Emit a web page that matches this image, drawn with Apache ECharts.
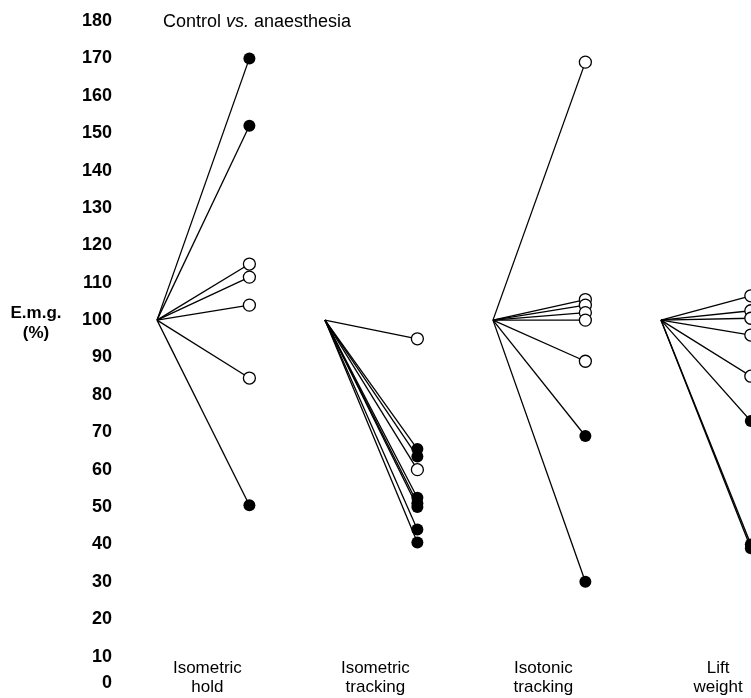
<!DOCTYPE html>
<html>
<head>
<meta charset="utf-8">
<script src="https://cdn.jsdelivr.net/npm/echarts@6/dist/echarts.min.js"></script>
<style>
html,body{margin:0;padding:0;background:#fff;}
#chart{width:751px;height:698px;}
</style>
</head>
<body>
<div id="chart"></div>
<script>
// ---- data ----
const categories = ['Isometric\nhold', 'Isometric\ntracking', 'Isotonic\ntracking', 'Lift\nweight'];
const baselineValue = 100;
// E.m.g. under anaesthesia (% of control), filled circles
const filledValues = [
  [170, 152, 50.5],
  [65.5, 63.5, 52.5, 51, 50, 44, 40.5],
  [69, 30],
  [73, 40, 39]
];
// open circles
const openValues = [
  [115, 111.5, 104, 84.5],
  [95, 60],
  [169, 105.5, 104, 102, 100, 89],
  [106.5, 102.5, 100.5, 96, 85]
];
// x slots (axis units) for each task: control start, anaesthesia end, label centre
const startSlot = [0, 10, 20, 30];
const endSlot = [5.5, 15.5, 25.5, 35.35];
const labelSlot = [3, 13, 23, 33.4];
const yMin = 0, yMax = 180, yStep = 10;

const FONT = '"Liberation Sans", Arial, sans-serif';

// ---- build series ----
const series = [];
const filledPts = [], openPts = [];
categories.forEach((c, g) => {
  filledValues[g].forEach(v => {
    series.push({type: 'line', data: [[startSlot[g], baselineValue], [endSlot[g], v]],
      symbol: 'none', lineStyle: {color: '#000', width: 1.3}, z: 2, silent: true, animation: false});
    filledPts.push([endSlot[g], v]);
  });
  openValues[g].forEach(v => {
    series.push({type: 'line', data: [[startSlot[g], baselineValue], [endSlot[g], v]],
      symbol: 'none', lineStyle: {color: '#000', width: 1.3}, z: 2, silent: true, animation: false});
    openPts.push([endSlot[g], v]);
  });
});
series.push({type: 'scatter', data: openPts, symbol: 'circle', symbolSize: 12, z: 5,
  itemStyle: {color: '#fff', borderColor: '#000', borderWidth: 1.3, opacity: 1}, animation: false});
series.push({type: 'scatter', data: filledPts, symbol: 'circle', symbolSize: 12, z: 6,
  itemStyle: {color: '#000', opacity: 1}, animation: false});

const chart = echarts.init(document.getElementById('chart'));
chart.setOption({
  backgroundColor: '#fff',
  animation: false,
  title: {
    text: '{a|Control }{b|vs.}{a| anaesthesia}',
    left: 158, top: 8,
    textStyle: {
      fontWeight: 'normal',
      rich: {
        a: {fontFamily: FONT, fontSize: 18, color: '#000', fontWeight: 'normal'},
        b: {fontFamily: FONT, fontSize: 18, color: '#000', fontWeight: 'normal', fontStyle: 'italic'}
      }
    }
  },
  grid: {left: 157, right: 0, top: 21, bottom: 4, containLabel: false},
  xAxis: {
    type: 'value', min: 0, max: 35.36,
    axisLine: {show: false}, axisTick: {show: false}, splitLine: {show: false},
    axisLabel: {
      show: true, inside: true, margin: -3,
      customValues: labelSlot,
      formatter: function (val) {
        const i = labelSlot.findIndex(s => Math.abs(s - val) < 1e-6);
        return i >= 0 ? categories[i] : '';
      },
      fontFamily: FONT, fontSize: 17, color: '#000', lineHeight: 19, align: 'center'
    }
  },
  yAxis: {
    type: 'value', min: yMin, max: yMax, interval: yStep,
    axisLine: {show: false}, axisTick: {show: false}, splitLine: {show: false},
    axisLabel: {
      margin: 45, fontFamily: FONT, fontSize: 18, fontWeight: 'bold', color: '#000',
      formatter: function (v) { return v === 0 ? '{z|0}' : String(v); },
      rich: {z: {fontFamily: FONT, fontSize: 18, fontWeight: 'bold', color: '#000', padding: [0, 0, 22, 0]}}
    }
  },
  graphic: [{
    type: 'text', x: 36, y: 323,
    style: {text: 'E.m.g.\n(%)', fontFamily: FONT, fontSize: 17, fontWeight: 'bold', fill: '#000',
      align: 'center', verticalAlign: 'middle', lineHeight: 20}
  }],
  series: series
});
</script>
</body>
</html>
